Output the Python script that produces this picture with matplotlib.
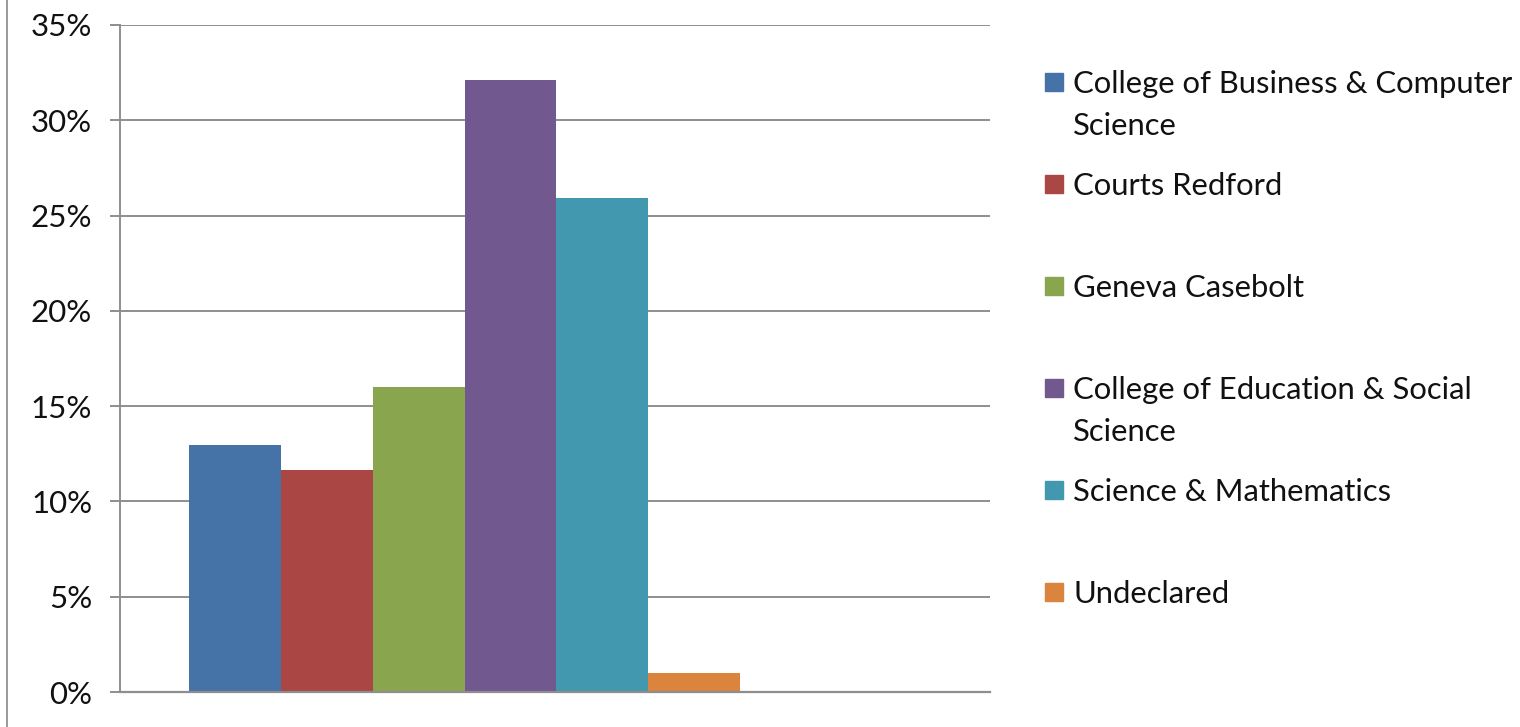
import matplotlib
matplotlib.use("Agg")
import matplotlib.pyplot as plt
from matplotlib.patches import Rectangle
from matplotlib.lines import Line2D
from matplotlib.ticker import FuncFormatter

# data
colleges = ["College of Business & Computer\nScience",
            "Courts Redford",
            "Geneva Casebolt",
            "College of Education & Social\nScience",
            "Science & Mathematics",
            "Undeclared"]
shares = [12.95, 11.65, 16.0, 32.1, 25.9, 1.0]
colors = ["#4572A7", "#AA4643", "#89A54E", "#71588F", "#4198AF", "#DB843D"]
yticks = [0, 5, 10, 15, 20, 25, 30, 35]

W, H = 1520, 727
plt.rcParams['font.family'] = ['Lato', 'DejaVu Sans']

fig = plt.figure(figsize=(W / 100, H / 100), dpi=100)
ax = fig.add_axes([120 / W, 1 - 692 / H, (990 - 120) / W, (692 - 25) / H])

for i, (v, c) in enumerate(zip(shares, colors)):
    ax.bar(i, v, width=1.0, color=c, zorder=3)

ax.set_xlim(-0.5 - 69 / 92, 5.5 + 250 / 92)
ax.set_ylim(0, 35)
ax.set_yticks(yticks)
ax.yaxis.set_major_formatter(FuncFormatter(lambda v, p: "%d%%" % v))
ax.set_xticks([])

grey = "#8e8e8e"
ax.grid(axis="y", color=grey, linewidth=1.4, zorder=0)
ax.tick_params(axis="y", length=7, width=1.4, color=grey, pad=13,
               labelsize=22.5, labelcolor="#111111")
for s in ["top", "right"]:
    ax.spines[s].set_visible(False)
ax.spines["left"].set_color(grey)
ax.spines["left"].set_linewidth(1.4)
ax.spines["bottom"].set_color(grey)
ax.spines["bottom"].set_linewidth(1.6)
ax.spines["bottom"].set_zorder(4)

# legend drawn by hand so markers line up with the first text line
y0, step, line_h = 82, 102, 42
for i, (lab, c) in enumerate(zip(colleges, colors)):
    yc = y0 + i * step
    fig.patches.append(Rectangle((1045 / W, 1 - (yc + 9) / H), 18 / W, 18 / H,
                                 transform=fig.transFigure, color=c))
    for j, line in enumerate(lab.split("\n")):
        fig.text(1073 / W, 1 - (yc + 2 + j * line_h) / H, line, fontsize=22.3,
                 va="center", ha="left", color="#111111")

# outer frame edge on the left
fig.lines.append(Line2D([7 / W, 7 / W], [0, 1], transform=fig.transFigure,
                        color="#9a9a9a", linewidth=1.4))

fig.savefig("out.png", dpi=100)
